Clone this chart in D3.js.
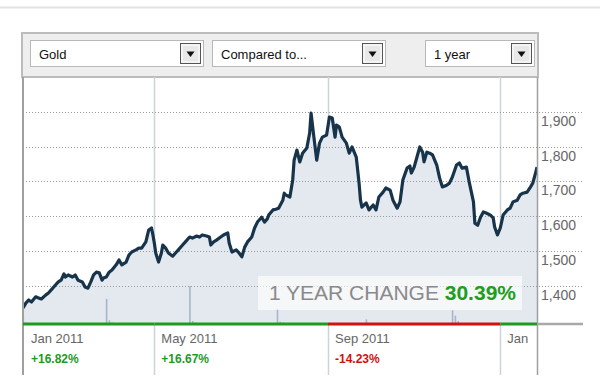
<!DOCTYPE html>
<html>
<head>
<meta charset="utf-8">
<script src="https://cdn.jsdelivr.net/npm/d3@7"></script>
<style>
  html, body { margin: 0; padding: 0; background: #fff; }
  svg { display: block; font-family: Arial, "Liberation Sans", sans-serif; }
</style>
</head>
<body>
<svg id="chart" width="600" height="391"></svg>
<script>
// ---------- data ----------
const dates = ["2011-01-28","2011-01-30","2011-02-01","2011-02-03","2011-02-06","2011-02-08","2011-02-10","2011-02-13","2011-02-15","2011-02-17","2011-02-20","2011-02-22","2011-02-24","2011-02-26","2011-02-27","2011-03-01","2011-03-04","2011-03-06","2011-03-08","2011-03-11","2011-03-13","2011-03-15","2011-03-17","2011-03-19","2011-03-21","2011-03-23","2011-03-25","2011-03-26","2011-03-28","2011-03-30","2011-04-01","2011-04-04","2011-04-06","2011-04-08","2011-04-11","2011-04-13","2011-04-15","2011-04-18","2011-04-20","2011-04-22","2011-04-25","2011-04-27","2011-04-29","2011-04-30","2011-05-01","2011-05-02","2011-05-04","2011-05-06","2011-05-07","2011-05-09","2011-05-11","2011-05-14","2011-05-16","2011-05-18","2011-05-21","2011-05-23","2011-05-26","2011-05-28","2011-05-31","2011-06-02","2011-06-04","2011-06-07","2011-06-09","2011-06-10","2011-06-12","2011-06-14","2011-06-17","2011-06-19","2011-06-22","2011-06-23","2011-06-25","2011-06-28","2011-06-30","2011-07-02","2011-07-04","2011-07-06","2011-07-09","2011-07-11","2011-07-13","2011-07-16","2011-07-18","2011-07-20","2011-07-21","2011-07-24","2011-07-26","2011-07-28","2011-07-31","2011-08-01","2011-08-02","2011-08-05","2011-08-07","2011-08-08","2011-08-10","2011-08-12","2011-08-14","2011-08-17","2011-08-19","2011-08-20","2011-08-22","2011-08-24","2011-08-26","2011-08-28","2011-08-31","2011-09-02","2011-09-04","2011-09-06","2011-09-07","2011-09-09","2011-09-11","2011-09-14","2011-09-16","2011-09-18","2011-09-21","2011-09-23","2011-09-24","2011-09-25","2011-09-28","2011-09-30","2011-10-03","2011-10-05","2011-10-07","2011-10-10","2011-10-12","2011-10-15","2011-10-17","2011-10-20","2011-10-22","2011-10-24","2011-10-27","2011-10-29","2011-10-30","2011-11-01","2011-11-03","2011-11-05","2011-11-07","2011-11-08","2011-11-10","2011-11-12","2011-11-14","2011-11-17","2011-11-19","2011-11-21","2011-11-24","2011-11-26","2011-11-28","2011-12-01","2011-12-03","2011-12-05","2011-12-08","2011-12-10","2011-12-13","2011-12-14","2011-12-16","2011-12-18","2011-12-20","2011-12-22","2011-12-25","2011-12-27","2011-12-28","2011-12-30","2012-01-01","2012-01-03","2012-01-06","2012-01-08","2012-01-10","2012-01-13","2012-01-15","2012-01-17","2012-01-20","2012-01-22","2012-01-24","2012-01-26","2012-01-27"];
const prices = [1336,1350,1359,1353,1368,1365,1362,1373,1379,1388,1402,1411,1416,1434,1425,1431,1425,1431,1416,1411,1396,1393,1411,1431,1439,1437,1416,1422,1425,1439,1445,1460,1474,1460,1468,1488,1497,1503,1508,1508,1526,1560,1566,1546,1523,1494,1468,1494,1517,1508,1494,1485,1494,1503,1517,1526,1540,1537,1543,1540,1546,1543,1540,1517,1526,1531,1540,1546,1552,1523,1497,1503,1494,1483,1511,1526,1540,1566,1583,1597,1583,1592,1603,1618,1620,1623,1646,1666,1661,1655,1704,1761,1790,1756,1781,1796,1839,1896,1827,1761,1810,1827,1833,1885,1882,1827,1862,1856,1827,1810,1781,1799,1770,1695,1646,1626,1638,1618,1632,1618,1655,1669,1681,1675,1646,1623,1641,1704,1738,1744,1724,1741,1770,1799,1784,1756,1784,1781,1776,1747,1710,1684,1689,1695,1712,1747,1753,1738,1741,1698,1641,1580,1574,1597,1612,1609,1603,1595,1569,1546,1566,1603,1618,1623,1641,1646,1661,1666,1669,1681,1695,1724,1741];

const volDates = ["2011-01-28","2011-01-30","2011-02-01","2011-02-05","2011-02-28","2011-03-28","2011-03-30","2011-04-01","2011-04-03","2011-05-26","2011-05-28","2011-05-30","2011-06-02","2011-07-27","2011-07-29","2011-07-31","2011-09-28","2011-11-28","2011-11-30","2011-12-02"];
const volumes  = [10,2,1.5,1,1,33,5,2,1,50,4,2,1.5,20,3,2,6,18,11,4];

const yTicks = [1400,1500,1600,1700,1800,1900];
const periodStarts = ["2011-05-01","2011-09-01","2012-01-01"];
const periodBounds = ["2011-01-28","2011-05-01","2011-09-01","2012-01-01","2012-01-27"];
const periodLabels = ["Jan 2011","May 2011","Sep 2011","Jan"];
const periodChanges = ["+16.82%","+16.67%","-14.23%",""];
const periodSign = [1,1,-1,1];
const yearChangeLabel = "1 YEAR CHANGE";
const yearChangeValue = "30.39%";
const menus = ["Gold","Compared to...","1 year"];

// ---------- setup ----------
const parse = d3.timeParse("%Y-%m-%d");
const series = dates.map((d,i)=>({date: parse(d), v: prices[i]}));
const vol = volDates.map((d,i)=>({date: parse(d), v: volumes[i]}));

const svg = d3.select("#chart");
const L = 23, R = 537, T = 77, B = 324;
const x = d3.scaleTime().domain([parse(periodBounds[0]), parse(periodBounds[4])]).range([L, R]);
const y = d3.scaleLinear().domain([1290, 2000]).range([B, T]);
const yv = d3.scaleLinear().domain([0, 50]).range([B, 286]);

svg.append("rect").attr("width",600).attr("height",391).attr("fill","#fff");
// top page rule
svg.append("line").attr("x1",0).attr("x2",600).attr("y1",7.5).attr("y2",7.5).attr("stroke","#e2e2e2").attr("stroke-width",2);

// ---------- header ----------
svg.append("rect").attr("x",22).attr("y",33).attr("width",516).attr("height",44)
  .attr("fill","#eeeeee").attr("stroke","#bcbcbc").attr("stroke-width",2);
const menuBoxes = [[30,203],[212,385],[425,534]];
menus.forEach((m,i)=>{
  const [x0,x1] = menuBoxes[i];
  const g = svg.append("g");
  g.append("rect").attr("x",x0+0.5).attr("y",40.5).attr("width",x1-x0).attr("height",26)
    .attr("fill","#fff").attr("stroke","#b8b8b8");
  g.append("text").attr("x",x0+9).attr("y",59).attr("font-size",13).attr("fill","#111").text(m);
  const bx = x1-23;
  g.append("rect").attr("x",bx+0.5).attr("y",43.5).attr("width",20).attr("height",20)
    .attr("fill","#e8e8e8").attr("stroke","#555");
  g.append("rect").attr("x",bx+2).attr("y",45).attr("width",17).attr("height",17)
    .attr("fill","none").attr("stroke","#fff");
  g.append("path").attr("d",`M${bx+6.5},${51.5} L${bx+14.5},${51.5} L${bx+10.5},${57}Z`).attr("fill","#111");
});

// ---------- plot ----------
const clip = svg.append("clipPath").attr("id","plotclip").append("rect")
  .attr("x",L).attr("y",T).attr("width",R-L).attr("height",B-T);

// vertical grid lines
svg.append("g").selectAll("line").data(periodStarts).join("line")
  .attr("x1",d=>Math.round(x(parse(d)))+0.5).attr("x2",d=>Math.round(x(parse(d)))+0.5)
  .attr("y1",T).attr("y2",375).attr("stroke","#cdd3da").attr("stroke-width",1.5);

// area
const area = d3.area().x(d=>x(d.date)).y0(B).y1(d=>y(d.v));
svg.append("path").datum(series).attr("d",area).attr("fill","#e4e9f0").attr("clip-path","url(#plotclip)");

// volume bars
svg.append("g").selectAll("rect").data(vol).join("rect")
  .attr("x",d=>x(d.date)-0.5).attr("width",1.6)
  .attr("y",d=>yv(d.v)).attr("height",d=>B-yv(d.v))
  .attr("fill","#a6b6c9");

// horizontal dotted grid
svg.append("g").selectAll("line").data(yTicks).join("line")
  .attr("x1",26).attr("x2",583)
  .attr("y1",d=>Math.round(y(d))+0.5).attr("y2",d=>Math.round(y(d))+0.5)
  .attr("stroke","#9a9a9a").attr("stroke-width",1).attr("stroke-dasharray","1,2");

// y axis labels on right
const yAxis = d3.axisRight(y).tickValues(yTicks).tickFormat(d3.format(",")).tickSize(0).tickPadding(0);
const ga = svg.append("g").attr("transform",`translate(541,9)`).call(yAxis);
ga.select(".domain").remove();
ga.selectAll("text").attr("font-size",14).attr("fill","#666").attr("font-family","Arial, 'Liberation Sans', sans-serif");

// 1 year change box
svg.append("rect").attr("x",258).attr("y",276).attr("width",264).attr("height",34)
  .attr("fill","#fff").attr("opacity",0.62);
const tc = svg.append("text").attr("x",516).attr("y",300).attr("text-anchor","end").attr("font-size",21);
tc.append("tspan").attr("fill","#8a8a8a").text(yearChangeLabel + " ");
tc.append("tspan").attr("fill","#1e9e1e").attr("font-weight","bold").text(yearChangeValue);

// price line
const line = d3.line().x(d=>x(d.date)).y(d=>y(d.v));
svg.append("path").datum(series).attr("d",line).attr("fill","none")
  .attr("stroke","#17344b").attr("stroke-width",3.2).attr("stroke-linejoin","round")
  .attr("clip-path","url(#plotclip)");

// borders
svg.append("line").attr("x1",L).attr("x2",L).attr("y1",T).attr("y2",375).attr("stroke","#a0a0a0").attr("stroke-width",2);
svg.append("line").attr("x1",R+0.5).attr("x2",R+0.5).attr("y1",T).attr("y2",375).attr("stroke","#a0a0a0").attr("stroke-width",1.5);

// baseline segments
svg.append("line").attr("x1",R).attr("x2",583).attr("y1",B).attr("y2",B).attr("stroke","#a9a9a9").attr("stroke-width",2.5);
svg.append("g").selectAll("line").data(periodLabels).join("line")
  .attr("x1",(d,i)=>x(parse(periodBounds[i]))).attr("x2",(d,i)=>x(parse(periodBounds[i+1])))
  .attr("y1",B).attr("y2",B).attr("stroke-width",3)
  .attr("stroke",(d,i)=>periodSign[i]>0?"#1e9b1e":"#d11111");

// period labels
const pl = svg.append("g");
pl.selectAll("text.lab").data(periodLabels).join("text").attr("class","lab")
  .attr("x",(d,i)=>x(parse(periodBounds[i]))+ (i===0?8:7)).attr("y",343)
  .attr("font-size",13).attr("fill","#666").text(d=>d);
pl.selectAll("text.chg").data(periodChanges).join("text").attr("class","chg")
  .attr("x",(d,i)=>x(parse(periodBounds[i]))+ (i===0?8:7)).attr("y",363)
  .attr("font-size",12).attr("font-weight","bold")
  .attr("fill",(d,i)=>periodSign[i]>0?"#1e9b1e":"#d11111").text(d=>d);
</script>
</body>
</html>
